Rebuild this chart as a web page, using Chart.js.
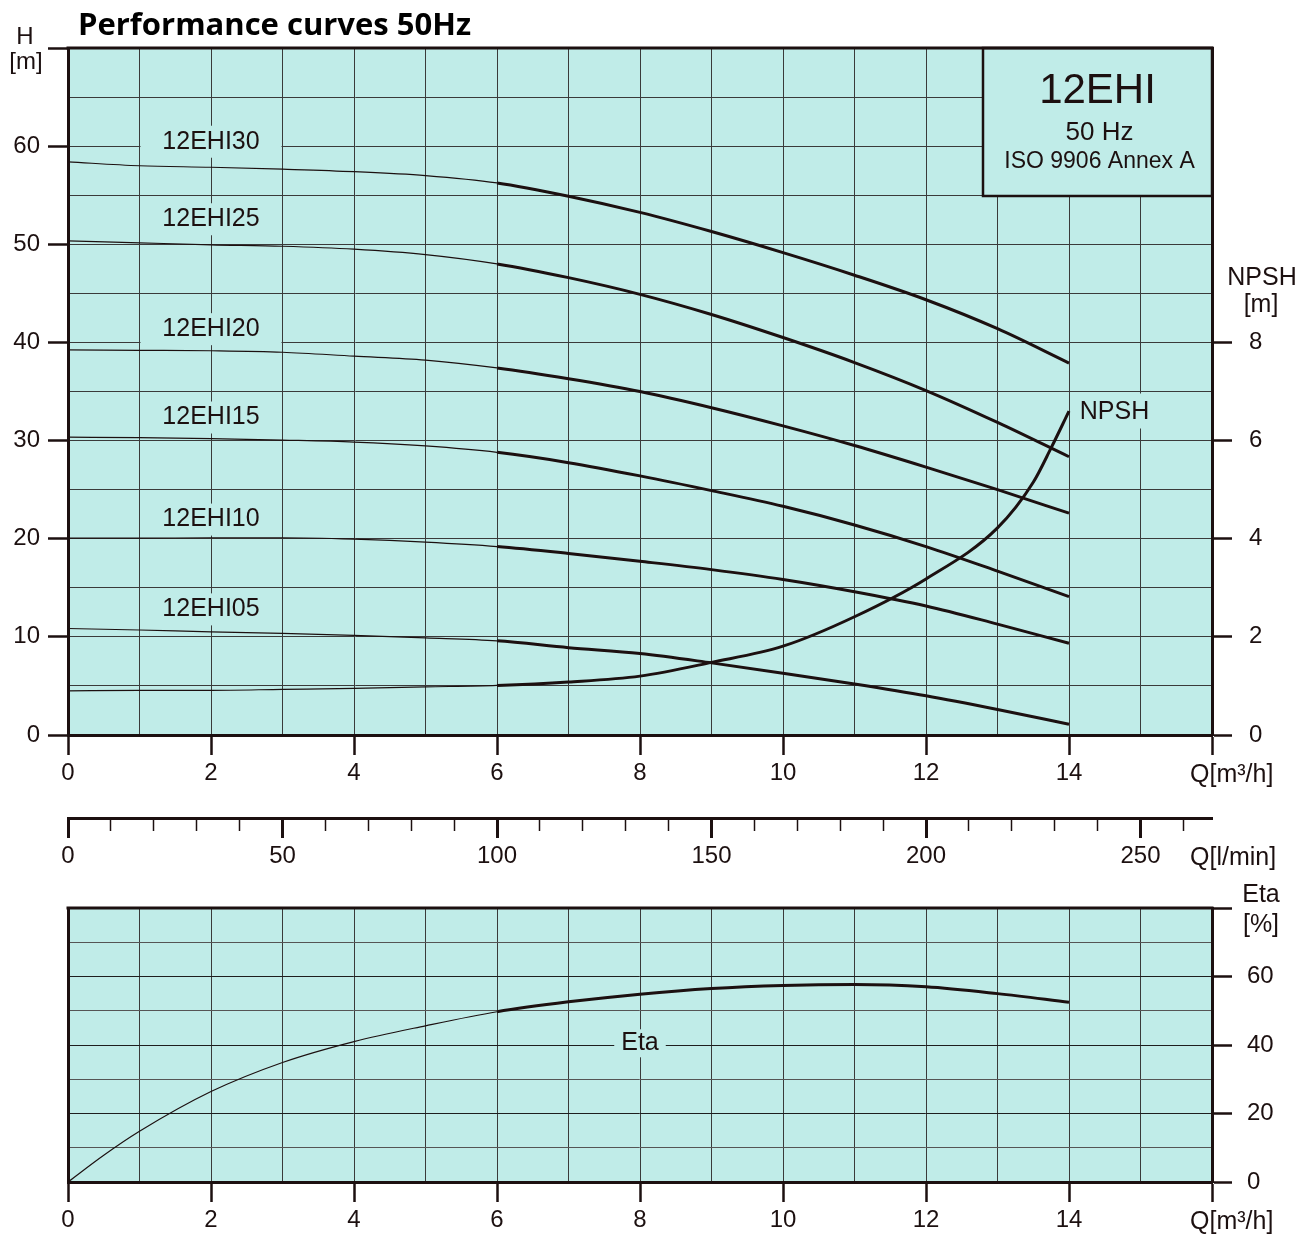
<!DOCTYPE html>
<html>
<head>
<meta charset="utf-8">
<script src="https://cdn.jsdelivr.net/npm/chart.js@4.4.1/dist/chart.umd.min.js"></script>
<style>
  html, body { margin: 0; padding: 0; background: #fff; }
  #wrap { position: relative; width: 1315px; height: 1235px; }
  canvas { position: absolute; left: 0; }
</style>
</head>
<body>
<div id="wrap">
  <canvas id="headChart" width="1315" height="800" style="top:0"></canvas>
  <canvas id="flowChart" width="1315" height="90" style="top:790px"></canvas>
  <canvas id="etaChart" width="1315" height="365" style="top:870px"></canvas>
</div>
<script>
// Q in m3/h
const qFlow = [0, 1, 2, 3, 4, 5, 6, 7, 8, 9, 10, 11, 12, 13, 14];

// head H [m] per model
const head30 = [58.4, 58.0, 57.85, 57.65, 57.4, 57.0, 56.25, 54.9, 53.25, 51.3, 49.15, 46.85, 44.35, 41.4, 37.9];
const head25 = [50.35, 50.15, 49.95, 49.8, 49.5, 48.95, 48.0, 46.6, 44.9, 42.85, 40.5, 37.95, 35.1, 31.85, 28.35];
const head20 = [39.25, 39.2, 39.15, 39.0, 38.6, 38.2, 37.4, 36.3, 35.0, 33.35, 31.5, 29.5, 27.3, 25.0, 22.6];
const head15 = [30.35, 30.3, 30.2, 30.05, 29.85, 29.45, 28.8, 27.75, 26.4, 24.9, 23.3, 21.4, 19.2, 16.7, 14.1];
const head10 = [20.05, 20.05, 20.1, 20.1, 19.95, 19.65, 19.2, 18.5, 17.7, 16.85, 15.85, 14.6, 13.15, 11.3, 9.35];
const head05 = [10.85, 10.7, 10.5, 10.35, 10.15, 9.9, 9.6, 8.9, 8.3, 7.35, 6.3, 5.2, 4.0, 2.6, 1.1];

const pumpModels = ['12EHI30', '12EHI25', '12EHI20', '12EHI15', '12EHI10', '12EHI05'];
const pumpHeads = [head30, head25, head20, head15, head10, head05];
// where the model names sit (H value, centred over Q = 2)
const modelLabelH = [60.45, 52.55, 41.35, 32.35, 21.95, 12.8];

// NPSH [m]
const qNpsh = [0, 1, 2, 3, 4, 5, 6, 7, 8, 9, 10, 11, 12, 13, 13.5, 13.75, 14];
const npsh = [0.9, 0.91, 0.91, 0.93, 0.95, 0.98, 1.01, 1.08, 1.2, 1.48, 1.81, 2.41, 3.18, 4.22, 5.15, 5.85, 6.6];

// efficiency [%]
const qEta = [0, 0.5, 1, 2, 3, 4, 5, 6, 7, 8, 9, 10, 11, 12, 13, 14];
const eta = [0, 7.8, 14.8, 26.4, 34.9, 41.0, 45.6, 49.7, 52.6, 54.85, 56.5, 57.4, 57.7, 57.0, 55.0, 52.5];

const INK = '#1c1010';
const TEAL = '#c0ece8';
const GRID = '#3a3a3a';
const FONT = '"Liberation Sans", Arial, sans-serif';
const tickFont = { family: FONT, size: 24 };

const toPoints = (xs, ys) => xs.map((x, i) => ({ x, y: ys[i] }));
const fixW = w => s => { s.width = w; };
const fixH = h => s => { s.height = h; };

const curveStyle = {
    borderColor: INK,
    pointRadius: 0,
    borderJoinStyle: 'round',
    cubicInterpolationMode: 'monotone',
    segment: {
        borderWidth: c => c.p0.parsed.x >= 6 ? 3 : 1.2
    }
};

const fillPlot = chart => {
    const { ctx, chartArea: a } = chart;
    ctx.save();
    ctx.fillStyle = TEAL;
    ctx.fillRect(a.left, a.top, a.right - a.left, a.bottom - a.top);
    ctx.restore();
};

const tag = (ctx, text, x, y, size, align) => {
    ctx.font = `${size}px ${FONT}`;
    ctx.fillStyle = INK;
    ctx.textAlign = align || 'center';
    ctx.textBaseline = 'alphabetic';
    ctx.fillText(text, x, y);
};

const topBorder = (chart) => {
    const { ctx, chartArea: a } = chart;
    ctx.save();
    ctx.strokeStyle = INK;
    ctx.lineWidth = 3;
    ctx.beginPath();
    ctx.moveTo(a.left - 1.5, a.top);
    ctx.lineTo(a.right + 1.5, a.top);
    ctx.stroke();
    ctx.restore();
};

const headDecor = {
    id: 'headDecor',
    beforeDraw: fillPlot,
    beforeDatasetsDraw(chart) {
        const { ctx, chartArea: a, scales: { x, y } } = chart;
        ctx.save();
        // model names
        const x1 = x.getPixelForValue(1), x3 = x.getPixelForValue(3);
        pumpModels.forEach((name, i) => {
            const cy = y.getPixelForValue(modelLabelH[i]);
            ctx.fillStyle = TEAL;
            ctx.fillRect(x1 + 1, cy - 16, x3 - x1 - 2, 32);
            ctx.font = `25px ${FONT}`;
            ctx.fillStyle = INK;
            ctx.textAlign = 'center';
            ctx.textBaseline = 'middle';
            ctx.fillText(name, x.getPixelForValue(2), cy);
        });
        // NPSH curve name
        const ny = y.getPixelForValue(32.86);
        ctx.fillStyle = TEAL;
        ctx.fillRect(x.getPixelForValue(14) + 1, ny - 19, a.right - x.getPixelForValue(14) - 3, 35);
        ctx.font = `25px ${FONT}`;
        ctx.fillStyle = INK;
        ctx.textAlign = 'left';
        ctx.textBaseline = 'middle';
        ctx.fillText('NPSH', x.getPixelForValue(14.15), ny);
        // model box
        const bx = a.right - 229, by = a.top, bh = 148;
        ctx.fillStyle = TEAL;
        ctx.fillRect(bx, by, a.right - bx, bh);
        ctx.strokeStyle = INK;
        ctx.lineWidth = 2.5;
        ctx.strokeRect(bx, by, a.right - bx, bh);
        const cx = (bx + a.right) / 2;
        tag(ctx, '12EHI', cx, by + 55, 42);
        tag(ctx, '50 Hz', cx + 2, by + 92, 26);
        tag(ctx, 'ISO 9906 Annex A', cx + 2, by + 120, 23);
        ctx.restore();
    },
    afterDraw(chart) {
        const { ctx } = chart;
        topBorder(chart);
        ctx.save();
        ctx.font = 'bold 31px "Open Sans", sans-serif';
        ctx.fillStyle = '#000';
        ctx.textAlign = 'left';
        ctx.textBaseline = 'alphabetic';
        ctx.fillText('Performance curves 50Hz', 78, 35);
        tag(ctx, 'H', 25, 44, 24);
        tag(ctx, '[m]', 26, 69, 24);
        tag(ctx, 'NPSH', 1262, 285, 25);
        tag(ctx, '[m]', 1261, 312, 25);
        tag(ctx, 'Q[m³/h]', 1190, 782, 25, 'left');
        ctx.restore();
    }
};

new Chart(document.getElementById('headChart'), {
    type: 'line',
    data: {
        datasets: [
            ...pumpHeads.map((h, i) => ({
                label: pumpModels[i],
                data: toPoints(qFlow, h),
                yAxisID: 'y',
                ...curveStyle
            })),
            {
                label: 'NPSH',
                data: toPoints(qNpsh, npsh),
                yAxisID: 'y2',
                ...curveStyle
            }
        ]
    },
    options: {
        responsive: false,
        animation: false,
        layout: { padding: { top: 48, left: 0, right: 0, bottom: 0 } },
        plugins: { legend: { display: false }, tooltip: { enabled: false } },
        scales: {
            x: {
                type: 'linear', min: 0, max: 16,
                afterFit: fixH(65),
                grid: {
                    color: GRID, lineWidth: 1, tickLength: 20, tickWidth: 2.5,
                    tickColor: c => c.tick.value % 2 === 0 ? INK : 'transparent'
                },
                border: { color: INK, width: 3 },
                ticks: {
                    stepSize: 1, autoSkip: false, maxRotation: 0, padding: 4,
                    color: INK, font: tickFont,
                    callback: v => (v % 2 === 0 && v < 16) ? v : ''
                }
            },
            y: {
                position: 'left', min: 0, max: 70,
                afterFit: fixW(68),
                grid: {
                    color: GRID, lineWidth: 1, tickLength: 20, tickWidth: 2.5,
                    tickColor: c => c.tick.value % 10 === 0 ? INK : 'transparent'
                },
                border: { color: INK, width: 3 },
                ticks: {
                    stepSize: 5, autoSkip: false, padding: 8,
                    color: INK, font: tickFont,
                    callback: v => (v % 10 === 0 && v < 70) ? v : ''
                }
            },
            y2: {
                position: 'right', min: 0, max: 14,
                afterFit: fixW(103),
                grid: {
                    drawOnChartArea: false, tickLength: 20, tickWidth: 2.5,
                    tickColor: c => c.tick.value <= 8 ? INK : 'transparent'
                },
                border: { color: INK, width: 3 },
                ticks: {
                    stepSize: 2, autoSkip: false, padding: 17,
                    color: INK, font: tickFont,
                    callback: v => v <= 8 ? v : ''
                }
            }
        }
    },
    plugins: [headDecor]
});

// l/min scale under the head chart
const flowDecor = {
    id: 'flowDecor',
    afterDraw(chart) {
        const { ctx } = chart;
        ctx.save();
        tag(ctx, 'Q[l/min]', 1190, 75, 25, 'left');
        ctx.restore();
    }
};

new Chart(document.getElementById('flowChart'), {
    type: 'line',
    data: { datasets: [] },
    options: {
        responsive: false,
        animation: false,
        layout: { padding: { top: 10, left: 68, right: 103, bottom: 0 } },
        plugins: { legend: { display: false }, tooltip: { enabled: false } },
        scales: {
            x: {
                type: 'linear', min: 0, max: 16 * 1000 / 60,
                afterFit: fixH(62),
                grid: {
                    drawOnChartArea: false, tickLength: 20,
                    tickColor: INK,
                    tickWidth: c => c.tick.value % 50 === 0 ? 3 : 1.5,
                    tickBorderDash: c => c.tick.value % 50 === 0 ? [] : [11, 40]
                },
                border: { color: INK, width: 3 },
                ticks: {
                    stepSize: 10, includeBounds: false, autoSkip: false, maxRotation: 0, padding: 4,
                    color: INK, font: tickFont,
                    callback: v => v % 50 === 0 ? v : ''
                }
            },
            y: { display: false }
        }
    },
    plugins: [flowDecor]
});

const etaDecor = {
    id: 'etaDecor',
    beforeDraw: fillPlot,
    beforeDatasetsDraw(chart) {
        const { ctx, scales: { x, y2 } } = chart;
        ctx.save();
        ctx.font = `25px ${FONT}`;
        const w = ctx.measureText('Eta').width;
        const cx = x.getPixelForValue(8), cy = y2.getPixelForValue(40.5);
        ctx.fillStyle = TEAL;
        ctx.fillRect(cx - w / 2 - 7, cy - 14, w + 14, 28);
        ctx.fillStyle = INK;
        ctx.textAlign = 'center';
        ctx.textBaseline = 'middle';
        ctx.fillText('Eta', cx, cy);
        ctx.restore();
    },
    afterDraw(chart) {
        const { ctx } = chart;
        topBorder(chart);
        ctx.save();
        tag(ctx, 'Eta', 1261, 32, 25);
        tag(ctx, '[%]', 1261, 62, 25);
        tag(ctx, 'Q[m³/h]', 1190, 359, 25, 'left');
        ctx.restore();
    }
};

new Chart(document.getElementById('etaChart'), {
    type: 'line',
    data: {
        datasets: [{
            label: 'Eta',
            data: toPoints(qEta, eta),
            yAxisID: 'y2',
            ...curveStyle
        }]
    },
    options: {
        responsive: false,
        animation: false,
        layout: { padding: { top: 38, left: 0, right: 0, bottom: 0 } },
        plugins: { legend: { display: false }, tooltip: { enabled: false } },
        scales: {
            x: {
                type: 'linear', min: 0, max: 16,
                afterFit: fixH(53),
                grid: {
                    color: GRID, lineWidth: 1, tickLength: 20, tickWidth: 2.5,
                    tickColor: c => c.tick.value % 2 === 0 ? INK : 'transparent'
                },
                border: { color: INK, width: 3 },
                ticks: {
                    stepSize: 1, autoSkip: false, maxRotation: 0, padding: 4,
                    color: INK, font: tickFont,
                    callback: v => (v % 2 === 0 && v < 16) ? v : ''
                }
            },
            y: {
                position: 'left', min: 0, max: 80,
                afterFit: fixW(68),
                grid: { drawOnChartArea: false, drawTicks: false },
                border: { color: INK, width: 3 },
                ticks: { display: false, stepSize: 10 }
            },
            y2: {
                position: 'right', min: 0, max: 80,
                afterFit: fixW(103),
                grid: {
                    color: c => c.tick.value % 20 === 0 ? '#1e1e1e' : '#555',
                    lineWidth: 1, tickLength: 20, tickWidth: 2.5,
                    tickColor: c => c.tick.value % 20 === 0 ? INK : 'transparent'
                },
                border: { color: INK, width: 3 },
                ticks: {
                    stepSize: 10, autoSkip: false, padding: 15,
                    color: INK, font: tickFont,
                    callback: v => (v % 20 === 0 && v < 80) ? v : ''
                }
            }
        }
    },
    plugins: [etaDecor]
});
</script>
</body>
</html>
